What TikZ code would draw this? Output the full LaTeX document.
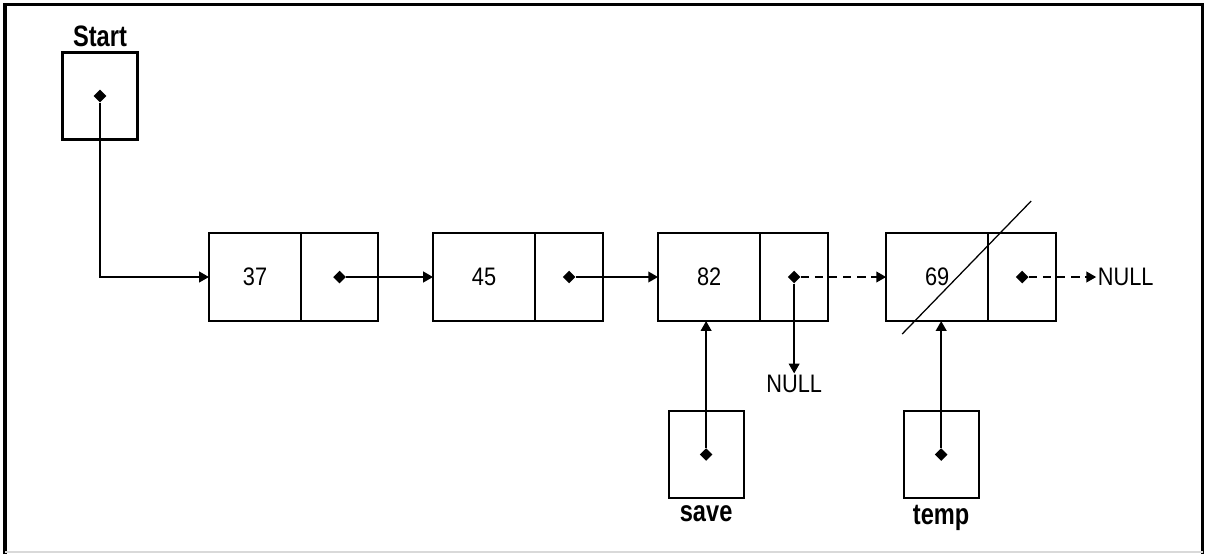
\documentclass[tikz,border=0pt]{standalone}
\usepackage{fontspec}
\setsansfont{Liberation Sans}
\newfontfamily\cellfont[FakeStretch=0.86]{Liberation Sans}
\newfontfamily\varfont[FakeStretch=0.8]{Liberation Sans}
\usepackage{tikz}
\usetikzlibrary{arrows.meta,positioning,shapes.geometric,calc}

\begin{document}
\begin{tikzpicture}[
  x=0.025cm, y=-0.025cm, >={Triangle[length=7pt,width=7.5pt]},
  cell/.style={draw, line width=1.5pt, outer sep=0pt, minimum height=2.2cm,
               font=\cellfont\fontsize{18}{21}\selectfont},
  data/.style={cell, minimum width=2.55cm},
  link/.style={cell, minimum width=1.7cm},
  ptr/.style={draw, line width=1.5pt, outer sep=0pt, minimum width=1.875cm, minimum height=2.175cm},
  dot/.style={diamond, fill, inner sep=0pt, minimum size=0.32cm},
  txt/.style={font=\cellfont\fontsize{18}{21}\selectfont, inner sep=1pt},
  varname/.style={font=\varfont\bfseries\fontsize{21}{24}\selectfont, inner sep=1pt},
  dep/.style={->, line width=1.5pt},
  nil/.style={dep, dash pattern=on 6pt off 4pt}
]
\useasboundingbox (0,0) rectangle (1207,554);
% frame
\draw[line width=2.2pt] (5,554) -- (5,4.5) -- (1202.5,4.5) -- (1202.5,554);
\draw[black!15, line width=1pt] (5,552) -- (1202.5,552);

% list
\node[data, minimum width=2.3cm] (d1) at (255,277) {37};
\node[link, minimum width=1.925cm, right=0pt of d1] (p1) {};
\node[data, right=1.375cm of p1] (d2) {45};
\node[link, right=0pt of d2] (p2) {};
\node[data, right=1.375cm of p2] (d3) {82};
\node[link, right=0pt of d3] (p3) {};
\node[data, right=1.45cm of p3] (d4) {69};
\node[link, right=0pt of d4] (p4) {};

% pointers
\node[ptr] (start) at (100,96) {};
\node[varname, above=3pt of start] (startt) {Start};
\node[ptr, below=2.25cm of d3, xshift=-0.075cm] (save) {};
\node[varname, below=4pt of save] (savet) {save};
\node[ptr, below=2.25cm of d4, xshift=0.1cm] (temp) {};
\node[varname, below=4pt of temp] (tempt) {temp};

\node[dot] (cs) at (start.center) {};
\node[dot] (cv) at (save.center) {};
\node[dot] (ct) at (temp.center) {};
\node[dot] (c1) at (p1.center) {};
\node[dot] (c2) at (p2.center) {};
\node[dot] (c3) at (p3.center) {};
\node[dot] (c4) at (p4.center) {};

\node[txt] (null1) at (c3 |- 0,384) {NULL};
\node[txt, right=1cm of p4] (null2) {NULL};

\draw[dep] (cs) |- (d1.west);
\draw[dep] (c1) -- (d2);
\draw[dep] (c2) -- (d3);
\draw[nil] (c3) -- (d4);
\draw[dep] (c3) -- (null1);
\draw[nil] (c4) -- (null2);
\draw[dep] (cv) -- (cv |- d3.south);
\draw[dep] (ct) -- (ct |- d4.south);

% removed node
\draw[line width=0.9pt] ([shift={(16,13)}]d4.south west) -- ([shift={(43,-32)}]p4.north west);
\end{tikzpicture}
\end{document}
